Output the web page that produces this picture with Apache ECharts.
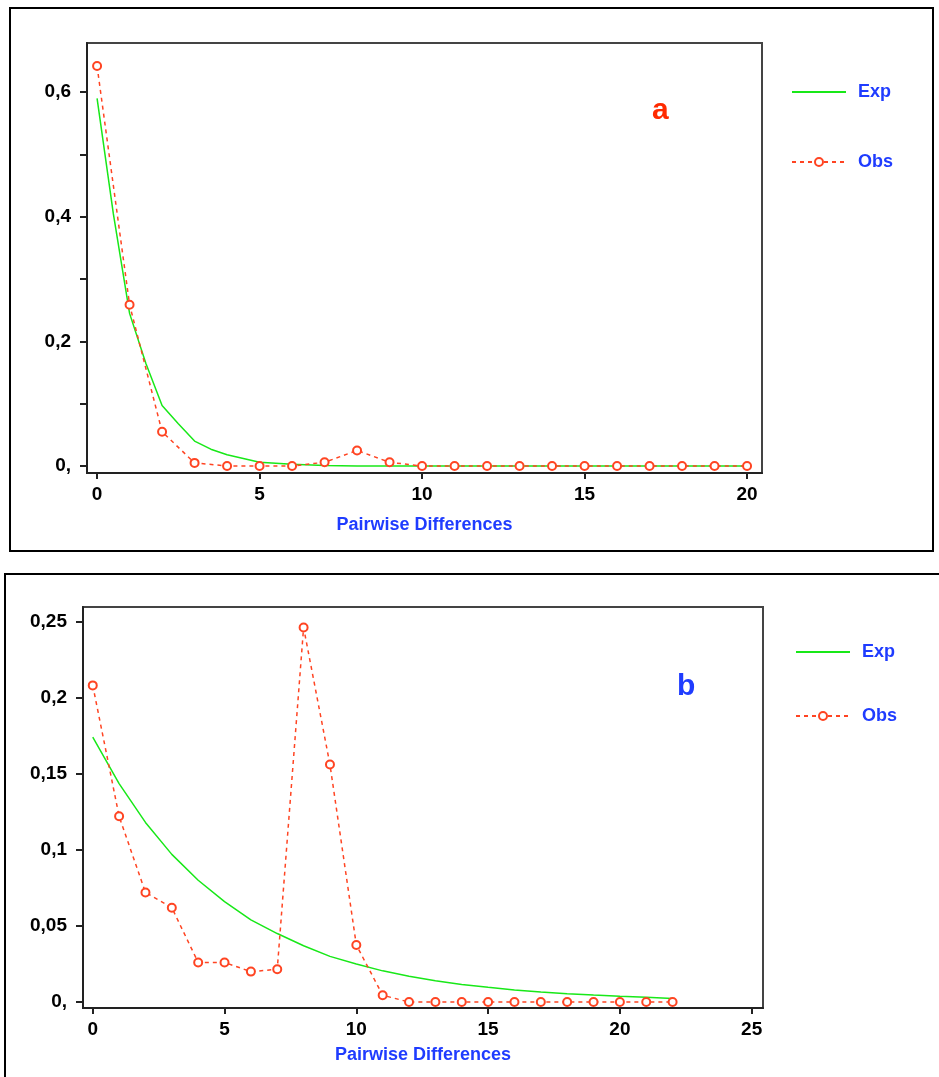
<!DOCTYPE html>
<html lang="en">
<head>
    <meta charset="UTF-8">
    <title>Mismatch distribution</title>
    <script src="https://cdn.jsdelivr.net/npm/echarts@6/dist/echarts.min.js"></script>
    <style>
        html, body { margin: 0; padding: 0; background: #fff; }
        #main { width: 939px; height: 1077px; }
    </style>
</head>
<body>
    <div id="main"></div>
</body>
</html>
<script type="text/javascript">
    // chart a
    var aDiff = [0, 1, 2, 3, 4, 5, 6, 7, 8, 9, 10, 11, 12, 13, 14, 15, 16, 17, 18, 19, 20];
    var aObs = [0.642, 0.259, 0.055, 0.005, 0, 0, 0, 0.006, 0.025, 0.006, 0, 0, 0, 0, 0, 0, 0, 0, 0, 0, 0];
    var aExpDiff = [0, 0.5, 1, 1.5, 2, 2.5, 3, 3.5, 4, 5, 6, 7, 8, 9, 10, 11, 12, 13, 14, 15, 16, 17, 18, 19, 20];
    var aExp = [0.590, 0.405, 0.245, 0.165, 0.097, 0.068, 0.040, 0.027, 0.018, 0.006, 0.003, 0.001, 0, 0, 0, 0, 0, 0, 0, 0, 0, 0, 0, 0, 0];
    var aXTicks = [0, 5, 10, 15, 20];
    var aYTicks = [0, 0.1, 0.2, 0.3, 0.4, 0.5, 0.6];
    var aYLabels = [0, 0.2, 0.4, 0.6];

    // chart b
    var bDiff = [0, 1, 2, 3, 4, 5, 6, 7, 8, 9, 10, 11, 12, 13, 14, 15, 16, 17, 18, 19, 20, 21, 22];
    var bObs = [0.208, 0.122, 0.072, 0.062, 0.026, 0.026, 0.020, 0.0215, 0.246, 0.156, 0.0375, 0.0045, 0, 0, 0, 0, 0, 0, 0, 0, 0, 0, 0];
    var bExp = [0.174, 0.1435, 0.118, 0.097, 0.080, 0.066, 0.054, 0.045, 0.037, 0.030, 0.025, 0.0205, 0.017, 0.014, 0.0115, 0.0097, 0.008, 0.0066, 0.0055, 0.0046, 0.0038, 0.0031, 0.0024];
    var bXTicks = [0, 5, 10, 15, 20, 25];
    var bYTicks = [0, 0.05, 0.1, 0.15, 0.2, 0.25];

    var GREEN = '#18e818';
    var RED = '#ff4422';
    var BLUE = '#1f3cff';
    var FONT = 'Liberation Sans';

    function pairs(xs, ys) {
        var out = [];
        for (var i = 0; i < xs.length; i++) out.push([xs[i], ys[i]]);
        return out;
    }

    function comma(v) {
        return v === 0 ? '0,' : String(v).replace('.', ',');
    }

    function xAxisOf(idx, min, max, ticks, gap) {
        return {
            type: 'value', gridIndex: idx, min: min, max: max,
            name: 'Pairwise Differences', nameLocation: 'middle', nameGap: gap,
            nameTextStyle: { color: BLUE, fontFamily: FONT, fontWeight: 'bold', fontSize: 18 },
            splitLine: { show: false },
            axisLine: { onZero: false, lineStyle: { color: '#222', width: 2 } },
            axisTick: { customValues: ticks, length: 6, lineStyle: { color: '#222', width: 2 } },
            axisLabel: { customValues: ticks, margin: 12, color: '#000', fontFamily: FONT, fontWeight: 'bold', fontSize: 19 }
        };
    }

    function yAxisOf(idx, min, max, ticks, labels) {
        return {
            type: 'value', gridIndex: idx, min: min, max: max,
            splitLine: { show: false },
            axisLine: { onZero: false, lineStyle: { color: '#222', width: 2 } },
            axisTick: { customValues: ticks, length: 7, lineStyle: { color: '#222', width: 2 } },
            axisLabel: { customValues: labels, margin: 16, color: '#000', fontFamily: FONT, fontWeight: 'bold', fontSize: 19, formatter: comma }
        };
    }

    function expSeries(idx, data) {
        return {
            name: 'Exp', type: 'line', xAxisIndex: idx, yAxisIndex: idx, data: data,
            symbol: 'none', lineStyle: { color: GREEN, width: 1.5 }, itemStyle: { color: GREEN },
            animation: false
        };
    }

    function obsSeries(idx, data) {
        return {
            name: 'Obs', type: 'line', xAxisIndex: idx, yAxisIndex: idx, data: data,
            symbol: 'emptyCircle', symbolSize: 8,
            lineStyle: { color: RED, width: 1.5, type: [4, 4] },
            itemStyle: { color: RED, borderColor: RED, borderWidth: 1.5 },
            animation: false
        };
    }

    function legendOf(left, top, gap) {
        return {
            data: [{ name: 'Exp', icon: 'path://M0,0H54V2H0Z' }, 'Obs'],
            orient: 'vertical', left: left, top: top,
            itemWidth: 54, itemHeight: 10, itemGap: gap, padding: 0,
            textStyle: { color: BLUE, fontFamily: FONT, fontWeight: 'bold', fontSize: 18, padding: [0, 0, 0, 7] }
        };
    }

    var myChart = echarts.init(document.getElementById('main'));
    var option = {
        backgroundColor: '#fff',
        grid: [
            { left: 87, top: 43, width: 675, height: 430, show: true, borderColor: '#444', borderWidth: 2, backgroundColor: 'transparent' },
            { left: 83, top: 607, width: 680, height: 401, show: true, borderColor: '#444', borderWidth: 2, backgroundColor: 'transparent' }
        ],
        xAxis: [
            xAxisOf(0, -0.31, 20.46, aXTicks, 43),
            xAxisOf(1, -0.37, 25.43, bXTicks, 38)
        ],
        yAxis: [
            yAxisOf(0, -0.0112, 0.679, aYTicks, aYLabels),
            yAxisOf(1, -0.0039, 0.2595, bYTicks, bYTicks)
        ],
        legend: [
            legendOf(791, 83, 52),
            legendOf(795, 643, 46)
        ],
        graphic: [
            { type: 'rect', shape: { x: 10, y: 8, width: 923, height: 543 }, style: { fill: 'none', stroke: '#000', lineWidth: 2 }, silent: true },
            { type: 'rect', shape: { x: 5, y: 574, width: 960, height: 540 }, style: { fill: 'none', stroke: '#000', lineWidth: 2 }, silent: true },
            { type: 'text', left: 652, top: 96, style: { text: 'a', fill: '#ff2a00', font: 'bold 30px "Liberation Sans"' } },
            { type: 'text', left: 677, top: 672, style: { text: 'b', fill: BLUE, font: 'bold 30px "Liberation Sans"' } }
        ],
        series: [
            expSeries(0, pairs(aExpDiff, aExp)),
            obsSeries(0, pairs(aDiff, aObs)),
            expSeries(1, pairs(bDiff, bExp)),
            obsSeries(1, pairs(bDiff, bObs))
        ]
    };
    myChart.setOption(option);
</script>
